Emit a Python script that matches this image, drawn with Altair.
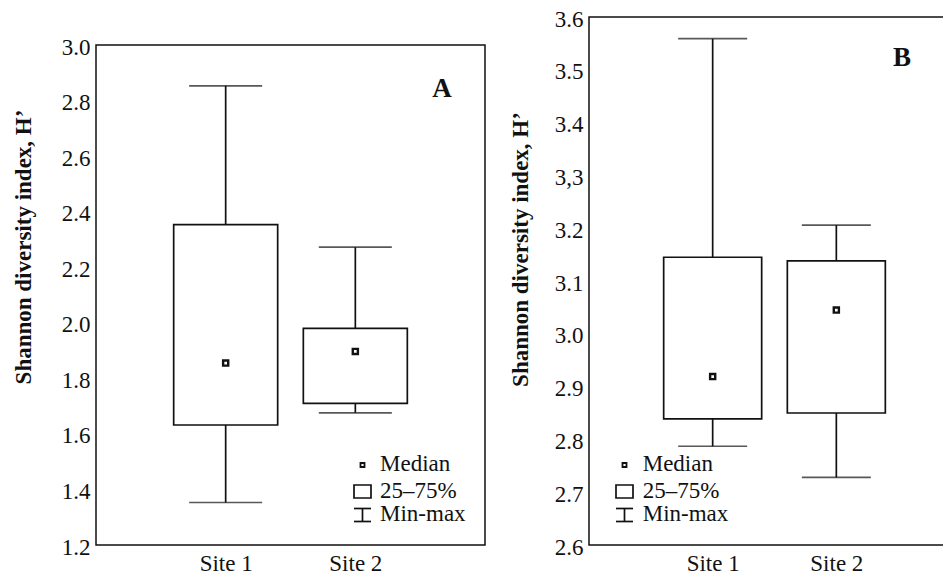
import altair as alt
import pandas as pd

# ---- data ----
SITES = ["Site 1", "Site 2"]

A_MIN = [1.353, 1.676]
A_Q1 = [1.632, 1.710]
A_MEDIAN = [1.855, 1.897]
A_Q3 = [2.353, 1.980]
A_MAX = [2.853, 2.272]

B_MIN = [2.787, 2.728]
B_Q1 = [2.839, 2.850]
B_MEDIAN = [2.919, 3.045]
B_Q3 = [3.145, 3.138]
B_MAX = [3.559, 3.206]

A_TICKS = [1.2, 1.4, 1.6, 1.8, 2.0, 2.2, 2.4, 2.6, 2.8, 3.0]
A_TICK_LABELS = ["1.2", "1.4", "1.6", "1.8", "2.0", "2.2", "2.4", "2.6", "2.8", "3.0"]
B_TICKS = [2.6, 2.7, 2.8, 2.9, 3.0, 3.1, 3.2, 3.3, 3.4, 3.5, 3.6]
B_TICK_LABELS = ["2.6", "2.7", "2.8", "2.9", "3.0", "3.1", "3.2", "3,3", "3.4", "3.5", "3.6"]

LEGEND_LABELS = ["Median", "25\u201375%", "Min-max"]
Y_TITLE = "Shannon diversity index, H\u2019"
PANEL_LETTERS = ["A", "B"]

FONT = "Liberation Serif"
INK = "#111111"
LW = 1.7
H = 528  # common group height (plot B); plot A uses a shorter range


def label_expr(ticks, labels):
    expr = "format(datum.value, '.1f')"
    for t, lab in zip(ticks, labels):
        key = format(t, ".1f")
        if key != lab:
            expr = f"(format(datum.value, '.1f') == '{key}' ? '{lab}' : {expr})"
    return expr


def panel(mins, q1s, meds, q3s, maxs, ticks, tick_labels, lo, hi, width, top,
          box_w, cap_w, letter, letter_xy, leg, title_x, title_y):
    df = pd.DataFrame({"site": SITES, "min": mins, "q1": q1s, "median": meds,
                       "q3": q3s, "max": maxs})
    one = pd.DataFrame({"k": [0]})

    xenc = alt.X("site:N", sort=SITES,
                 scale=alt.Scale(type="point", padding=1),
                 axis=alt.Axis(title=None, labelAngle=0, domain=False, ticks=False,
                               grid=False, labelPadding=7, labelFontSize=23,
                               labelColor=INK, labelFont=FONT))
    yscale = alt.Scale(domain=[lo, hi], range=[H, top], nice=False, zero=False)
    yaxis = alt.Axis(title=Y_TITLE, values=ticks, labelExpr=label_expr(ticks, tick_labels),
                     domain=False, ticks=False, grid=False, labelPadding=6,
                     labelOffset=2,
                     labelFontSize=23, labelColor=INK, labelFont=FONT,
                     titleFontSize=23, titleFontWeight="bold", titleColor=INK,
                     titleFont=FONT, titleX=title_x, titleY=title_y)

    base = alt.Chart(df)
    frame = alt.Chart(one).mark_rect(fillOpacity=0, stroke=INK, strokeWidth=1.5).encode(
        x=alt.value(0), x2=alt.value("width"),
        y=alt.datum(hi, scale=yscale, axis=yaxis), y2=alt.datum(lo))
    whisker = base.mark_rule(color=INK, strokeWidth=LW).encode(
        x=xenc, y=alt.Y("min:Q", scale=yscale, axis=yaxis), y2="max:Q")
    box = base.mark_bar(size=box_w, fill="white", stroke=INK, strokeWidth=LW).encode(
        x=xenc, y=alt.Y("q1:Q", scale=yscale, axis=yaxis), y2="q3:Q")
    cap_lo = base.mark_tick(size=cap_w, thickness=LW, color=INK).encode(
        x=xenc, y=alt.Y("min:Q", scale=yscale, axis=yaxis))
    cap_hi = base.mark_tick(size=cap_w, thickness=LW, color=INK).encode(
        x=xenc, y=alt.Y("max:Q", scale=yscale, axis=yaxis))
    med = base.mark_point(shape="square", size=26, filled=True, fill="white",
                          stroke=INK, strokeWidth=2.4, opacity=1).encode(
        x=xenc, y=alt.Y("median:Q", scale=yscale, axis=yaxis))

    letter_mark = alt.Chart(one).mark_text(
        text=letter, fontSize=27, fontWeight="bold", font=FONT, color=INK,
        align="center", baseline="alphabetic").encode(
        x=alt.value(letter_xy[0]), y=alt.value(letter_xy[1]))

    # legend (drawn in pixel space of the panel)
    sx, tx = leg["sym_x"], leg["text_x"]
    legend_layers = []
    legend_layers.append(alt.Chart(one).mark_point(
        shape="square", size=16, filled=True, fill="white", stroke=INK,
        strokeWidth=1.8, opacity=1).encode(x=alt.value(sx), y=alt.value(leg["med_y"])))
    legend_layers.append(alt.Chart(one).mark_rect(
        fillOpacity=0, stroke=INK, strokeWidth=1.7).encode(
        x=alt.value(sx - 8.5), x2=alt.value(sx + 8.5),
        y=alt.value(leg["box_y"][0]), y2=alt.value(leg["box_y"][1])))
    y0, y1 = leg["mm_y"]
    legend_layers.append(alt.Chart(one).mark_rule(color=INK, strokeWidth=LW).encode(
        x=alt.value(sx - 8.5), x2=alt.value(sx + 8.5), y=alt.value(y0)))
    legend_layers.append(alt.Chart(one).mark_rule(color=INK, strokeWidth=LW).encode(
        x=alt.value(sx - 8.5), x2=alt.value(sx + 8.5), y=alt.value(y1)))
    legend_layers.append(alt.Chart(one).mark_rule(color=INK, strokeWidth=LW).encode(
        x=alt.value(sx), y=alt.value(y0), y2=alt.value(y1)))
    for lab, by in zip(LEGEND_LABELS, leg["text_y"]):
        legend_layers.append(alt.Chart(one).mark_text(
            text=lab, fontSize=23, font=FONT, color=INK, align="left",
            baseline="alphabetic").encode(x=alt.value(tx), y=alt.value(by)))

    return alt.layer(frame, whisker, box, cap_lo, cap_hi, med, letter_mark,
                     *legend_layers).properties(width=width, height=H)


LEG_Y = dict(med_y=448, box_y=(468, 481), mm_y=(491.5, 504.5), text_y=(454, 480.5, 504))

panel_a = panel(A_MIN, A_Q1, A_MEDIAN, A_Q3, A_MAX, A_TICKS, A_TICK_LABELS,
                1.2, 3.0, 389, 28, 104, 73, PANEL_LETTERS[0], (346, 80),
                dict(sym_x=266.5, text_x=284, **LEG_Y), -61, 229.5)
panel_b = panel(B_MIN, B_Q1, B_MEDIAN, B_Q3, B_MAX, B_TICKS, B_TICK_LABELS,
                2.6, 3.6, 371, 0, 98, 69, PANEL_LETTERS[1], (313, 49),
                dict(sym_x=35.5, text_x=53.7, **LEG_Y), -57, 232)

chart = alt.hconcat(panel_a, panel_b, spacing=104, bounds="flush").resolve_scale(
    x="independent", y="independent").properties(
    padding={"left": 4, "top": 0, "right": -18, "bottom": 0}
).configure(font=FONT).configure_view(stroke="transparent", strokeWidth=0).configure_axis(
    labelFont=FONT, titleFont=FONT).configure_text(font=FONT)

chart.save("out.html", embed_options={"renderer": "svg", "actions": False})
